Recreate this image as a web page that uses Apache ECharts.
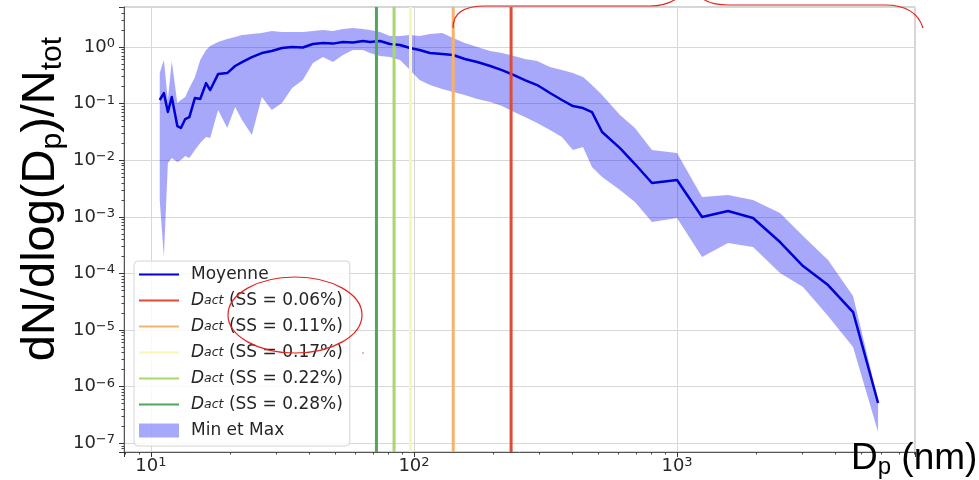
<!DOCTYPE html>
<html>
<head>
<meta charset="utf-8">
<script src="https://cdn.jsdelivr.net/npm/echarts@6/dist/echarts.min.js"></script>
<style>
  html, body { margin: 0; padding: 0; background: #fff; }
  #chart { width: 979px; height: 480px; }
</style>
</head>
<body>
<div id="chart"></div>
<script>
// diamètres (nm)
const diam = [10.8, 11.2, 11.6, 12.0, 12.6, 13.0, 13.5, 14.0, 14.7, 15.4, 16.2, 16.8, 18.0, 19.5, 20.9, 22.2,
  24.2, 26.4, 28.8, 31.5, 34.4, 37.8, 41.3, 45.1, 49.2, 53.7, 58.6, 64.0, 68.0, 74.3, 81.0, 88.5, 96.6,
  105, 115, 128, 141, 156, 174, 195, 216, 240, 264, 294, 329, 365, 402, 439, 475, 519, 607, 692, 803,
  1000, 1245, 1563, 1945, 2464, 3013, 3751, 4669, 5812];
const moyenne = [0.116, 0.154, 0.071, 0.131, 0.0402, 0.0371, 0.0534, 0.058, 0.126, 0.121, 0.231, 0.174,
  0.333, 0.347, 0.462, 0.543, 0.666, 0.783, 0.85, 0.96, 1.0, 0.98, 1.13, 1.18, 1.15, 1.23, 1.2, 1.28,
  1.23, 1.28, 1.13, 1.085, 0.96, 0.885, 0.783, 0.752, 0.722, 0.614, 0.543, 0.462, 0.392, 0.32, 0.261,
  0.213, 0.154, 0.116, 0.0907, 0.0836, 0.071, 0.0315, 0.0164, 0.00857, 0.00396, 0.00447, 0.000992,
  0.00127, 0.000953, 0.000359, 0.000135, 0.0000624, 0.0000208, 5.13e-7];
const maxVals = [0.347, 0.589, 0.116, 0.566, 0.1025, 0.116, 0.131, 0.189, 0.295, 0.589, 0.885, 1.04,
  1.23, 1.39, 1.50, 1.63, 1.70, 1.77, 1.92, 1.84, 1.84, 1.84, 1.92, 2.0, 1.92, 2.08, 2.17, 2.08, 2.0,
  1.84, 1.56, 1.56, 1.63, 1.56, 1.70, 1.77, 1.44, 1.18, 1.0, 0.85, 0.783, 0.693, 0.614, 0.566, 0.443,
  0.392, 0.347, 0.295, 0.213, 0.142, 0.0629, 0.0371, 0.0151, 0.0134, 0.00224, 0.00243, 0.00198,
  0.00117, 0.000458, 0.000172, 0.0000399, 5.8e-7];
const minVals = [0.00198, 0.000195, 0.00892, 0.0109, 0.00929, 0.0101, 0.0119, 0.0109, 0.0151, 0.0201,
  0.0257, 0.0247, 0.0771, 0.0371, 0.0871, 0.0513, 0.0279, 0.131, 0.0771, 0.1025, 0.189, 0.261, 0.522,
  0.666, 0.543, 0.722, 0.885, 0.885, 0.783, 0.693, 0.666, 0.589, 0.392, 0.261, 0.213, 0.181, 0.160,
  0.142, 0.121, 0.107, 0.0907, 0.071, 0.058, 0.0454, 0.0342, 0.0257, 0.0151, 0.0171, 0.00759, 0.00505,
  0.00298, 0.00183, 0.000809, 0.000953, 0.000195, 0.000344, 0.000293, 0.000102, 0.0000575, 0.0000177,
  0.00000501, 1.58e-7];

// diamètres d'activation
const dactDiam = [234, 141, 97, 84, 72];
const ssLabels = ['0.06%', '0.11%', '0.17%', '0.22%', '0.28%'];
const dactColors = ['#dc4d37', '#f6b26b', '#f8f8b6', '#a9d76e', '#4fa75a'];

const X_MIN = 7.9, X_MAX = 8030;
const Y_MIN = 7.0e-8, Y_MAX = 5.1;
const BAND = 'rgba(0, 0, 240, 0.34)';
const MEAN = '#0000d2';
const RED = '#e3231e';

// minor ticks (2..9 x 10^n)
const xMinor = [], yMinor = [];
for (let e = 0; e <= 3; e++) for (let k = 2; k <= 9; k++) {
  const v = k * Math.pow(10, e);
  if (v > X_MIN && v < X_MAX) xMinor.push(v);
}
for (let e = -8; e <= 0; e++) for (let k = 2; k <= 9; k++) {
  const v = k * Math.pow(10, e);
  if (v > Y_MIN && v < Y_MAX) yMinor.push(v);
}

function powLabel(v) {
  const l = Math.log10(v);
  const e = Math.round(l);
  if (Math.abs(l - e) > 1e-6) return '';
  return '{b|10}{e|' + (e < 0 ? '\u2212' + (-e) : e) + '}';
}

const labelRich = {
  b: { fontSize: 18, lineHeight: 20, color: '#262626', fontFamily: 'DejaVu Sans' },
  e: { fontSize: 13, lineHeight: 9, verticalAlign: 'top', color: '#262626', fontFamily: 'DejaVu Sans' }
};

const dactName = s => 'D_act (SS = ' + s + ')';

function redCurve(x1, y1, c1x, c1y, c2x, c2y, x2, y2) {
  return {
    type: 'bezierCurve', z: 20, silent: true,
    shape: { x1: x1, y1: y1, cpx1: c1x, cpy1: c1y, cpx2: c2x, cpy2: c2y, x2: x2, y2: y2 },
    style: { fill: null, stroke: RED, lineWidth: 1.2 }
  };
}
function redLine(x1, y1, x2, y2) {
  return {
    type: 'line', z: 20, silent: true,
    shape: { x1: x1, y1: y1, x2: x2, y2: y2 },
    style: { stroke: RED, lineWidth: 1.2 }
  };
}

// band min/max drawn as one polygon through the axis scales
function renderBand(params, api) {
  if (params.dataIndex !== 0) return;
  const pts = [];
  for (let i = 0; i < diam.length; i++) pts.push(api.coord([diam[i], maxVals[i]]));
  for (let i = diam.length - 1; i >= 0; i--) pts.push(api.coord([diam[i], minVals[i]]));
  return { type: 'polygon', shape: { points: pts }, style: { fill: BAND } };
}

const lineLegend = name => ({ name: name, itemStyle: { opacity: 0 } });

const chart = echarts.init(document.getElementById('chart'));
chart.setOption({
  animation: false,
  backgroundColor: '#fff',
  textStyle: { fontFamily: 'DejaVu Sans' },
  grid: {
    left: 124, right: 64, top: 7, bottom: 28,
    show: true, borderColor: '#a8a8a8', borderWidth: 1,
    outerBoundsMode: 'none'
  },
  xAxis: [{
    type: 'log', min: X_MIN, max: X_MAX, splitNumber: 3,
    axisLine: { lineStyle: { color: '#555' } },
    axisTick: { length: 5, lineStyle: { color: '#333' } },
    axisLabel: { margin: 4, formatter: powLabel, rich: labelRich },
    splitLine: { show: true, lineStyle: { color: '#d8d8d8' } }
  }, {
    type: 'log', min: X_MIN, max: X_MAX, position: 'bottom',
    axisLine: { show: false }, axisLabel: { show: false }, splitLine: { show: false },
    axisTick: { show: true, length: 2.5, customValues: xMinor, lineStyle: { color: '#444' } }
  }],
  yAxis: [{
    type: 'log', min: Y_MIN, max: Y_MAX, splitNumber: 8,
    axisLine: { show: true, lineStyle: { color: '#555' } },
    axisTick: { show: true, length: 5, lineStyle: { color: '#333' } },
    axisLabel: { margin: 9, formatter: powLabel, rich: labelRich },
    splitLine: { show: true, lineStyle: { color: '#d8d8d8' } }
  }, {
    type: 'log', min: Y_MIN, max: Y_MAX, position: 'left',
    axisLine: { show: false }, axisLabel: { show: false }, splitLine: { show: false },
    axisTick: { show: true, length: 2.5, customValues: yMinor, lineStyle: { color: '#444' } }
  }],
  legend: {
    orient: 'vertical', left: 134, top: 261,
    padding: [5, 7, 7, 4],
    itemWidth: 40, itemHeight: 14, itemGap: 9,
    backgroundColor: 'rgba(255,255,255,0.85)',
    borderColor: '#d4d4d4', borderWidth: 1, borderRadius: 4,
    selectedMode: false,
    data: [lineLegend('Moyenne')].concat(ssLabels.map(s => lineLegend(dactName(s)))).concat([
      { name: 'Min et Max', icon: 'rect', itemStyle: { color: BAND, borderWidth: 0, opacity: 1 } }
    ]),
    formatter: function (name) {
      if (name.indexOf('D_act') === 0) {
        return '{g| }{i|D}{s|act}{t|' + name.slice(5) + '}';
      }
      return '{g| }{t|' + name + '}';
    },
    textStyle: {
      rich: {
        g: { width: 7, fontSize: 12, lineHeight: 14 },
        t: { fontSize: 17, lineHeight: 14, color: '#262626', fontFamily: 'DejaVu Sans' },
        i: { fontSize: 17, lineHeight: 14, fontStyle: 'italic', color: '#262626', fontFamily: 'DejaVu Sans' },
        s: { fontSize: 12.5, lineHeight: 2, verticalAlign: 'bottom', fontStyle: 'italic', color: '#262626', fontFamily: 'DejaVu Sans' }
      }
    }
  },
  series: [{
    name: 'Min et Max', type: 'custom', z: 1, silent: true,
    color: BAND,
    renderItem: renderBand,
    encode: { x: 0, y: [1, 2] },
    data: diam.map((d, i) => [d, minVals[i], maxVals[i]])
  }, {
    name: 'Moyenne', type: 'line', symbol: 'none', z: 3,
    color: MEAN,
    data: diam.map((d, i) => [d, moyenne[i]]),
    lineStyle: { color: MEAN, width: 2.5, join: 'round' }
  }].concat(dactDiam.map((d, i) => ({
    name: dactName(ssLabels[i]), type: 'line', symbol: 'none', z: 4,
    color: dactColors[i],
    data: [[d, Y_MIN], [d, Y_MAX]],
    lineStyle: { color: dactColors[i], width: 3 }
  }))),
  graphic: [{
    type: 'text', x: 41, y: 199, rotation: Math.PI / 2, z: 10,
    style: {
      text: '{m|dN/dlog(D}{s|p}{m|)/N}{s|tot}',
      align: 'center', verticalAlign: 'middle',
      rich: {
        m: { fontSize: 47, lineHeight: 54, fontFamily: 'Liberation Sans', fill: '#000' },
        s: { fontSize: 30, lineHeight: 27, verticalAlign: 'bottom', fontFamily: 'Liberation Sans', fill: '#000' }
      }
    }
  }, {
    type: 'text', x: 851, y: 459, z: 10,
    style: {
      text: '{m|D}{s|p}{m| (nm)}',
      align: 'left', verticalAlign: 'middle',
      rich: {
        m: { fontSize: 37, lineHeight: 40, fontFamily: 'Liberation Sans', fill: '#000' },
        s: { fontSize: 24, lineHeight: 18, verticalAlign: 'bottom', fontFamily: 'Liberation Sans', fill: '#000' }
      }
    }
  }, {
    type: 'ellipse', z: 20, silent: true,
    shape: { cx: 295, cy: 315, rx: 67, ry: 38 },
    style: { fill: null, stroke: RED, lineWidth: 1.2 }
  },
    redCurve(453, 28, 453, 14, 462, 6, 485, 6),
    redLine(485, 6, 650, 6),
    redCurve(650, 6, 662, 6, 670, 3, 676, -1),
    redCurve(703, -1, 709, 3, 716, 5, 728, 5),
    redLine(728, 5, 885, 5),
    redCurve(885, 5, 905, 5, 918, 12, 923, 28),
  {
    type: 'circle', z: 20, silent: true,
    shape: { cx: 363, cy: 353, r: 0.7 },
    style: { fill: RED }
  }]
});
</script>
</body>
</html>
